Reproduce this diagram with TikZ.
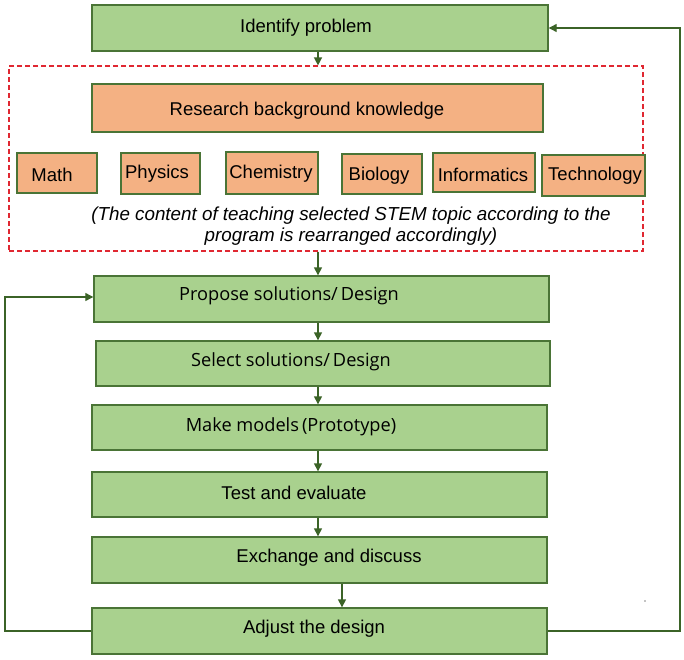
\documentclass[tikz,border=0pt]{standalone}
\usepackage{fontspec}
\setmainfont{Liberation Sans}
\newfontfamily\osans{Open Sans}
\usetikzlibrary{arrows.meta}
\definecolor{gfill}{HTML}{A9D18E}
\definecolor{ofill}{HTML}{F4B183}
\definecolor{bord}{HTML}{4A7436}
\definecolor{arrc}{HTML}{3B6327}
\definecolor{dred}{HTML}{E02832}
\begin{document}
\begin{tikzpicture}[x=1pt,y=-1pt,
  gbox/.style={draw=bord,fill=gfill,line width=1.4pt,inner sep=0pt},
  obox/.style={draw=bord,fill=ofill,line width=1.2pt,inner sep=0pt},
  txt/.style={font=\fontsize{18.5}{22}\selectfont,inner sep=0pt,yshift=-2.5pt},
  otxt/.style={font=\osans\fontsize{18.2}{22}\selectfont,inner sep=0pt,yshift=-2.5pt},
  arrow/.style={draw=arrc,line width=1.4pt,-{Triangle[length=8pt,width=8pt]}},
  loopline/.style={draw=arrc,line width=1.2pt,-{Triangle[length=8pt,width=8pt]}}]
\useasboundingbox (0,0) rectangle (684,659);
\fill[white] (0,0) rectangle (684,659);
% boxes
\node[gbox,minimum width=456pt,minimum height=46pt] (idb) at (320,28) {};
\node[draw=dred,dash pattern=on 5pt off 3pt,line width=1.2pt,minimum width=634pt,minimum height=185pt,inner sep=0pt] (dash) at (326,158.5) {};
\node[obox,minimum width=451pt,minimum height=48pt] (res) at (317.5,108) {};
\node[obox,minimum width=80pt,minimum height=40pt] (math) at (57,173) {};
\node[obox,minimum width=79pt,minimum height=41pt] (phys) at (160.5,173.5) {};
\node[obox,minimum width=92pt,minimum height=42pt] (chem) at (272,173) {};
\node[obox,minimum width=80pt,minimum height=40pt] (bio) at (382,174) {};
\node[obox,minimum width=102pt,minimum height=39pt] (inf) at (484,172.5) {};
\node[obox,minimum width=103pt,minimum height=41pt] (tech) at (593.5,175.5) {};
\node[gbox,minimum width=455pt,minimum height=46pt] (prop) at (321.5,299) {};
\node[gbox,minimum width=454pt,minimum height=45pt] (sel) at (323,363.5) {};
\node[gbox,minimum width=455pt,minimum height=45pt] (make) at (319.5,427.5) {};
\node[gbox,minimum width=455pt,minimum height=45pt] (test) at (319.5,494.5) {};
\node[gbox,minimum width=455pt,minimum height=46pt] (exch) at (319.5,560) {};
\node[gbox,minimum width=455pt,minimum height=46pt] (adj) at (319.5,631) {};
% texts
\node[txt] (tid) at (306,25) {Identify problem};
\node[txt] (tres) at (307,108) {Research background knowledge};
\node[txt] (tmath) at (52,172) {Math};
\node[txt] (tphys) at (157,171) {Physics};
\node[txt] (tchem) at (271,171) {Chemistry};
\node[txt] (tbio) at (379,173) {Biology};
\node[txt] (tinf) at (483,172) {Informatics};
\node[txt] (ttech) at (595,173) {Technology};
\node[txt,font=\itshape\fontsize{18.8}{21}\selectfont,align=center] (tnote) at (351,224) {(The content of teaching selected STEM topic according to the\\program is rearranged accordingly)};
\node[otxt] (tprop) at (289,293) {Propose solutions/\,Design};
\node[otxt] (tsel) at (291,359) {Select solutions/\,Design};
\node[otxt] (tmake) at (291,424) {Make models\,(Prototype)};
\node[txt] (ttest) at (294,490) {Test and evaluate};
\node[txt] (texch) at (329,555) {Exchange and discuss};
\node[txt] (tadj) at (314,626) {Adjust the design};
% connectors
\coordinate (ax) at (318,0);
\coordinate (bx) at (342,0);
\coordinate (lx) at (5,0);
\coordinate (rx) at (680,0);
\draw[arrow] (idb.south -| ax) -- (dash.north -| ax);
\draw[arrow] (dash.south -| ax) -- (prop.north -| ax);
\draw[arrow] (prop.south -| ax) -- (sel.north -| ax);
\draw[arrow] (sel.south -| ax) -- (make.north -| ax);
\draw[arrow] (make.south -| ax) -- (test.north -| ax);
\draw[arrow] (test.south -| ax) -- (exch.north -| ax);
\draw[arrow] (exch.south -| bx) -- (adj.north -| bx);
\draw[loopline] (adj.west) -- (adj.west -| lx) |- ([yshift=2pt]prop.west);
\draw[loopline] (adj.east) -- (adj.east -| rx) |- (idb.east);
\fill[black] (645,601) circle (0.7pt);
\end{tikzpicture}
\end{document}
